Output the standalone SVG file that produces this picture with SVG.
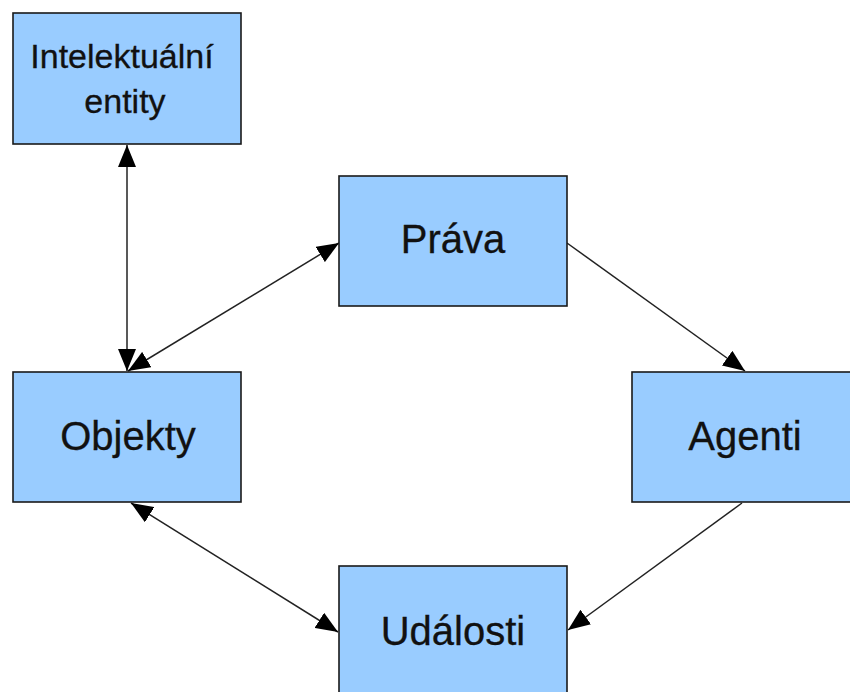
<svg xmlns="http://www.w3.org/2000/svg" width="850" height="692" viewBox="0 0 850 692">
<defs>
<style>
.box{fill:#99ccff;stroke:#1a1a1a;stroke-width:1.6}
.lbl{font-family:"Liberation Sans",Arial,sans-serif;fill:#111;text-anchor:middle;stroke:#111;stroke-width:0.3}
.big{font-size:40px}
.small{font-size:34px}
.conn{stroke:#222;stroke-width:1.5;fill:none}
</style>
<marker id="ah" viewBox="0 0 22 18" refX="22" refY="9" markerWidth="22" markerHeight="18" markerUnits="userSpaceOnUse" orient="auto-start-reverse">
<path d="M0,0 L22,9 L0,18 Z" fill="#000"/>
</marker>
</defs>
<rect width="850" height="692" fill="#fff"/>
<g id="connectors">
<line class="conn" x1="127" y1="145" x2="127" y2="371" marker-start="url(#ah)" marker-end="url(#ah)"/>
<line class="conn" x1="128" y1="371" x2="339" y2="243" marker-start="url(#ah)" marker-end="url(#ah)"/>
<line class="conn" x1="567" y1="243" x2="745" y2="371" marker-end="url(#ah)"/>
<line class="conn" x1="742" y1="503" x2="568" y2="630" marker-end="url(#ah)"/>
<line class="conn" x1="131" y1="503" x2="338" y2="632" marker-start="url(#ah)" marker-end="url(#ah)"/>
</g>
<g id="intelektualni">
<rect class="box" x="13" y="13" width="228" height="131"/>
<text class="lbl small" x="122" y="68">Intelektuální</text>
<text class="lbl small" x="125" y="113">entity</text>
</g>
<g id="prava">
<rect class="box" x="339" y="176" width="228" height="130"/>
<text class="lbl big" x="453" y="253">Práva</text>
</g>
<g id="objekty">
<rect class="box" x="13" y="372" width="228" height="130"/>
<text class="lbl big" x="128" y="450">Objekty</text>
</g>
<g id="agenti">
<rect class="box" x="632" y="372" width="228" height="130"/>
<text class="lbl big" x="745" y="450">Agenti</text>
</g>
<g id="udalosti">
<rect class="box" x="339" y="566" width="228" height="140"/>
<text class="lbl big" x="453" y="645">Události</text>
</g>
</svg>
